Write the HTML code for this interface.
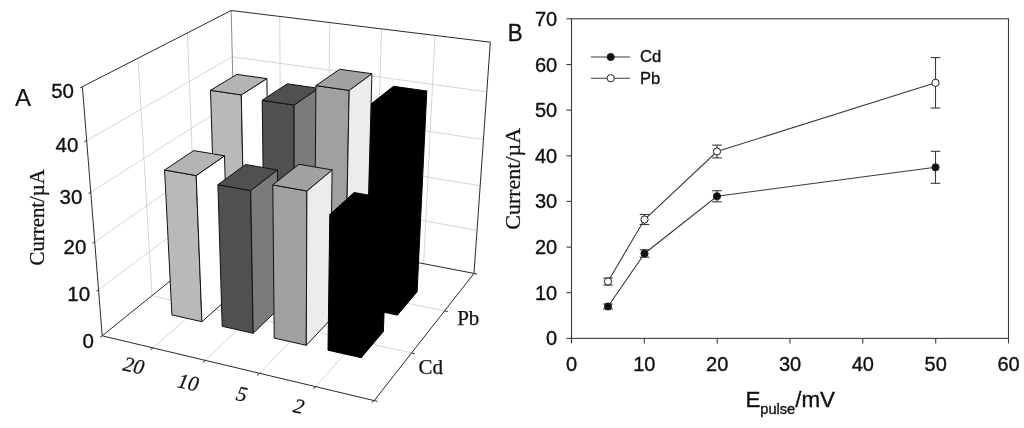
<!DOCTYPE html>
<html><head><meta charset="utf-8"><title>Figure</title>
<style>html,body{margin:0;padding:0;background:#fff}svg{display:block}</style></head>
<body><svg width="1024" height="428" viewBox="0 0 1024 428">
<rect width="1024" height="428" fill="#fff"/>
<g id="chartA">
<line x1="98.5" y1="289.7" x2="235.4" y2="186.9" stroke="#cbcbcb" stroke-width="0.8"/>
<line x1="235.4" y1="186.9" x2="477.0" y2="230.3" stroke="#cbcbcb" stroke-width="0.8"/>
<line x1="94.7" y1="241.9" x2="234.4" y2="145.0" stroke="#cbcbcb" stroke-width="0.8"/>
<line x1="234.4" y1="145.0" x2="480.2" y2="185.8" stroke="#cbcbcb" stroke-width="0.8"/>
<line x1="90.8" y1="192.2" x2="233.3" y2="101.6" stroke="#cbcbcb" stroke-width="0.8"/>
<line x1="233.3" y1="101.6" x2="483.4" y2="139.6" stroke="#cbcbcb" stroke-width="0.8"/>
<line x1="86.7" y1="140.5" x2="232.3" y2="56.8" stroke="#cbcbcb" stroke-width="0.8"/>
<line x1="232.3" y1="56.8" x2="486.8" y2="91.8" stroke="#cbcbcb" stroke-width="0.8"/>
<line x1="152.0" y1="295.7" x2="138.1" y2="58.1" stroke="#cbcbcb" stroke-width="0.8"/>
<line x1="152.0" y1="295.7" x2="411.6" y2="353.0" stroke="#cbcbcb" stroke-width="0.8"/>
<line x1="196.4" y1="259.8" x2="187.4" y2="32.9" stroke="#cbcbcb" stroke-width="0.8"/>
<line x1="196.4" y1="259.8" x2="444.6" y2="310.9" stroke="#cbcbcb" stroke-width="0.8"/>
<line x1="281.1" y1="236.2" x2="279.7" y2="16.4" stroke="#cbcbcb" stroke-width="0.8"/>
<line x1="152.9" y1="347.9" x2="281.1" y2="236.2" stroke="#cbcbcb" stroke-width="0.8"/>
<line x1="327.2" y1="245.1" x2="329.8" y2="22.6" stroke="#cbcbcb" stroke-width="0.8"/>
<line x1="205.3" y1="360.4" x2="327.2" y2="245.1" stroke="#cbcbcb" stroke-width="0.8"/>
<line x1="374.7" y1="254.2" x2="381.6" y2="28.9" stroke="#cbcbcb" stroke-width="0.8"/>
<line x1="259.6" y1="373.3" x2="374.7" y2="254.2" stroke="#cbcbcb" stroke-width="0.8"/>
<line x1="423.6" y1="263.7" x2="435.0" y2="35.4" stroke="#cbcbcb" stroke-width="0.8"/>
<line x1="315.8" y1="386.7" x2="423.6" y2="263.7" stroke="#cbcbcb" stroke-width="0.8"/>
<line x1="236.3" y1="227.6" x2="231.2" y2="10.5" stroke="#8a8a8a" stroke-width="1.0"/>
<line x1="102.2" y1="335.8" x2="82.4" y2="86.7" stroke="#2a2a2a" stroke-width="1.0"/>
<line x1="82.4" y1="86.7" x2="231.2" y2="10.5" stroke="#2a2a2a" stroke-width="1.0"/>
<line x1="231.2" y1="10.5" x2="490.3" y2="42.2" stroke="#2a2a2a" stroke-width="1.0"/>
<line x1="490.3" y1="42.2" x2="474.0" y2="273.4" stroke="#2a2a2a" stroke-width="1.0"/>
<line x1="102.2" y1="335.8" x2="374.2" y2="400.6" stroke="#2a2a2a" stroke-width="1.0"/>
<line x1="374.2" y1="400.6" x2="474.0" y2="273.4" stroke="#2a2a2a" stroke-width="1.0"/>
<line x1="102.2" y1="335.8" x2="236.3" y2="227.6" stroke="#2a2a2a" stroke-width="1.0"/>
<line x1="236.3" y1="227.6" x2="474.0" y2="273.4" stroke="#2a2a2a" stroke-width="1.0"/>
<line x1="102.2" y1="335.8" x2="100.2" y2="337.4" stroke="#2a2a2a" stroke-width="1.0"/>
<line x1="98.5" y1="289.7" x2="96.5" y2="291.3" stroke="#2a2a2a" stroke-width="1.0"/>
<line x1="94.7" y1="241.9" x2="92.6" y2="243.4" stroke="#2a2a2a" stroke-width="1.0"/>
<line x1="90.8" y1="192.2" x2="88.6" y2="193.6" stroke="#2a2a2a" stroke-width="1.0"/>
<line x1="86.7" y1="140.5" x2="84.4" y2="141.8" stroke="#2a2a2a" stroke-width="1.0"/>
<line x1="82.4" y1="86.7" x2="80.1" y2="87.9" stroke="#2a2a2a" stroke-width="1.0"/>
<line x1="152.9" y1="347.9" x2="150.4" y2="349.9" stroke="#2a2a2a" stroke-width="1.0"/>
<line x1="205.3" y1="360.4" x2="202.8" y2="362.4" stroke="#2a2a2a" stroke-width="1.0"/>
<line x1="259.6" y1="373.3" x2="257.1" y2="375.3" stroke="#2a2a2a" stroke-width="1.0"/>
<line x1="315.8" y1="386.7" x2="313.4" y2="388.7" stroke="#2a2a2a" stroke-width="1.0"/>
<line x1="374.2" y1="400.6" x2="371.7" y2="402.6" stroke="#2a2a2a" stroke-width="1.0"/>
<line x1="411.6" y1="353.0" x2="414.7" y2="353.7" stroke="#2a2a2a" stroke-width="1.0"/>
<line x1="444.6" y1="310.9" x2="447.7" y2="311.6" stroke="#2a2a2a" stroke-width="1.0"/>
<line x1="474.0" y1="273.4" x2="477.1" y2="274.1" stroke="#2a2a2a" stroke-width="1.0"/>
<line x1="374.2" y1="400.6" x2="377.3" y2="401.3" stroke="#2a2a2a" stroke-width="1.0"/>
<polygon points="216.4,277.1 245.2,283.1 241.3,94.9 210.5,90.3" fill="#b9b9b9" stroke="#111" stroke-width="1.0" stroke-linejoin="round"/>
<polygon points="245.2,283.1 268.9,261.9 266.9,78.6 241.3,94.9" fill="#ffffff" stroke="#111" stroke-width="1.0" stroke-linejoin="round"/>
<polygon points="210.5,90.3 241.3,94.9 266.9,78.6 236.9,74.4" fill="#b4b4b4" stroke="#111" stroke-width="1.0" stroke-linejoin="round"/>
<polygon points="264.6,287.2 294.3,293.4 294.1,105.1 262.2,100.3" fill="#505050" stroke="#111" stroke-width="1.0" stroke-linejoin="round"/>
<polygon points="294.3,293.4 316.8,271.6 318.3,88.3 294.1,105.1" fill="#7b7b7b" stroke="#111" stroke-width="1.0" stroke-linejoin="round"/>
<polygon points="262.2,100.3 294.1,105.1 318.3,88.3 287.3,83.8" fill="#505050" stroke="#111" stroke-width="1.0" stroke-linejoin="round"/>
<polygon points="314.4,297.6 345.0,304.1 349.2,90.4 315.9,85.6" fill="#a0a0a0" stroke="#111" stroke-width="1.0" stroke-linejoin="round"/>
<polygon points="345.0,304.1 366.2,281.5 371.9,73.7 349.2,90.4" fill="#ececec" stroke="#111" stroke-width="1.0" stroke-linejoin="round"/>
<polygon points="315.9,85.6 349.2,90.4 371.9,73.7 339.6,69.3" fill="#a2a2a2" stroke="#111" stroke-width="1.0" stroke-linejoin="round"/>
<polygon points="365.8,308.4 397.4,315.1 405.8,108.6 371.5,103.6" fill="#000" stroke="#000" stroke-width="1.0" stroke-linejoin="round"/>
<polygon points="397.4,315.1 417.1,291.8 426.8,91.0 405.8,108.6" fill="#000" stroke="#000" stroke-width="1.0" stroke-linejoin="round"/>
<polygon points="371.5,103.6 405.8,108.6 426.8,91.0 393.5,86.3" fill="#000" stroke="#000" stroke-width="1.0" stroke-linejoin="round"/>
<polygon points="171.9,314.9 201.9,321.7 196.2,175.6 164.6,170.0" fill="#b9b9b9" stroke="#111" stroke-width="1.0" stroke-linejoin="round"/>
<polygon points="201.9,321.7 228.5,298.0 224.5,155.8 196.2,175.6" fill="#ffffff" stroke="#111" stroke-width="1.0" stroke-linejoin="round"/>
<polygon points="164.6,170.0 196.2,175.6 224.5,155.8 193.7,150.6" fill="#b4b4b4" stroke="#111" stroke-width="1.0" stroke-linejoin="round"/>
<polygon points="222.2,326.3 253.2,333.3 250.7,190.6 217.9,184.7" fill="#505050" stroke="#111" stroke-width="1.0" stroke-linejoin="round"/>
<polygon points="253.2,333.3 278.4,308.8 277.4,170.0 250.7,190.6" fill="#7b7b7b" stroke="#111" stroke-width="1.0" stroke-linejoin="round"/>
<polygon points="217.9,184.7 250.7,190.6 277.4,170.0 245.6,164.5" fill="#505050" stroke="#111" stroke-width="1.0" stroke-linejoin="round"/>
<polygon points="274.2,338.1 306.3,345.3 306.9,191.0 272.8,184.9" fill="#a0a0a0" stroke="#111" stroke-width="1.0" stroke-linejoin="round"/>
<polygon points="306.3,345.3 330.1,320.0 332.1,169.9 306.9,191.0" fill="#ececec" stroke="#111" stroke-width="1.0" stroke-linejoin="round"/>
<polygon points="272.8,184.9 306.9,191.0 332.1,169.9 299.0,164.3" fill="#a2a2a2" stroke="#111" stroke-width="1.0" stroke-linejoin="round"/>
<polygon points="328.0,350.2 361.2,357.7 364.8,220.9 329.8,214.5" fill="#000" stroke="#000" stroke-width="1.0" stroke-linejoin="round"/>
<polygon points="361.2,357.7 383.4,331.5 388.1,198.5 364.8,220.9" fill="#000" stroke="#000" stroke-width="1.0" stroke-linejoin="round"/>
<polygon points="329.8,214.5 364.8,220.9 388.1,198.5 354.1,192.5" fill="#000" stroke="#000" stroke-width="1.0" stroke-linejoin="round"/>
</g>
<text x="14.9" y="106.3" font-size="24" font-family="Liberation Sans, Arial, sans-serif" stroke="#111" stroke-width="0.15" fill="#111">A</text>
<text x="93.8" y="347.5" font-size="20.5" text-anchor="end" font-family="Liberation Sans, Arial, sans-serif" stroke="#111" stroke-width="0.35" fill="#111">0</text>
<text x="90.1" y="301.4" font-size="20.5" text-anchor="end" font-family="Liberation Sans, Arial, sans-serif" stroke="#111" stroke-width="0.35" fill="#111">10</text>
<text x="86.3" y="253.6" font-size="20.5" text-anchor="end" font-family="Liberation Sans, Arial, sans-serif" stroke="#111" stroke-width="0.35" fill="#111">20</text>
<text x="82.4" y="203.9" font-size="20.5" text-anchor="end" font-family="Liberation Sans, Arial, sans-serif" stroke="#111" stroke-width="0.35" fill="#111">30</text>
<text x="78.3" y="152.2" font-size="20.5" text-anchor="end" font-family="Liberation Sans, Arial, sans-serif" stroke="#111" stroke-width="0.35" fill="#111">40</text>
<text x="74.0" y="98.4" font-size="20.5" text-anchor="end" font-family="Liberation Sans, Arial, sans-serif" stroke="#111" stroke-width="0.35" fill="#111">50</text>
<text transform="translate(43.5,217.3) rotate(-90)" font-size="20.8" text-anchor="middle" font-family="Liberation Serif, Times New Roman, serif" stroke="#111" stroke-width="0.25" fill="#111">Current/µA</text>
<text transform="translate(133.8,365.6) rotate(12)" font-size="21" font-style="italic" text-anchor="middle" dominant-baseline="central" font-family="Liberation Serif, Times New Roman, serif" stroke="#111" stroke-width="0.25" fill="#111">20</text>
<text transform="translate(188.2,382.3) rotate(12)" font-size="21" font-style="italic" text-anchor="middle" dominant-baseline="central" font-family="Liberation Serif, Times New Roman, serif" stroke="#111" stroke-width="0.25" fill="#111">10</text>
<text transform="translate(241.9,394.1) rotate(12)" font-size="21" font-style="italic" text-anchor="middle" dominant-baseline="central" font-family="Liberation Serif, Times New Roman, serif" stroke="#111" stroke-width="0.25" fill="#111">5</text>
<text transform="translate(298.9,406.2) rotate(12)" font-size="21" font-style="italic" text-anchor="middle" dominant-baseline="central" font-family="Liberation Serif, Times New Roman, serif" stroke="#111" stroke-width="0.25" fill="#111">2</text>
<text x="457.2" y="325" font-size="21" font-family="Liberation Serif, Times New Roman, serif" stroke="#111" stroke-width="0.25" fill="#111">Pb</text>
<text x="418.6" y="373.6" font-size="21" font-family="Liberation Serif, Times New Roman, serif" stroke="#111" stroke-width="0.25" fill="#111">Cd</text>
<g id="chartB">
<rect x="571.5" y="18.8" width="437.0" height="319.59999999999997" fill="none" stroke="#3a3a3a" stroke-width="1.1"/>
<line x1="566.5" y1="338.4" x2="571.5" y2="338.4" stroke="#3a3a3a" stroke-width="1.1"/>
<text x="557.2" y="345.4" font-size="20" text-anchor="end" font-family="Liberation Sans, Arial, sans-serif" stroke="#111" stroke-width="0.35" fill="#111">0</text>
<line x1="566.5" y1="292.7" x2="571.5" y2="292.7" stroke="#3a3a3a" stroke-width="1.1"/>
<text x="557.2" y="299.7" font-size="20" text-anchor="end" font-family="Liberation Sans, Arial, sans-serif" stroke="#111" stroke-width="0.35" fill="#111">10</text>
<line x1="566.5" y1="247.1" x2="571.5" y2="247.1" stroke="#3a3a3a" stroke-width="1.1"/>
<text x="557.2" y="254.1" font-size="20" text-anchor="end" font-family="Liberation Sans, Arial, sans-serif" stroke="#111" stroke-width="0.35" fill="#111">20</text>
<line x1="566.5" y1="201.4" x2="571.5" y2="201.4" stroke="#3a3a3a" stroke-width="1.1"/>
<text x="557.2" y="208.4" font-size="20" text-anchor="end" font-family="Liberation Sans, Arial, sans-serif" stroke="#111" stroke-width="0.35" fill="#111">30</text>
<line x1="566.5" y1="155.8" x2="571.5" y2="155.8" stroke="#3a3a3a" stroke-width="1.1"/>
<text x="557.2" y="162.8" font-size="20" text-anchor="end" font-family="Liberation Sans, Arial, sans-serif" stroke="#111" stroke-width="0.35" fill="#111">40</text>
<line x1="566.5" y1="110.1" x2="571.5" y2="110.1" stroke="#3a3a3a" stroke-width="1.1"/>
<text x="557.2" y="117.1" font-size="20" text-anchor="end" font-family="Liberation Sans, Arial, sans-serif" stroke="#111" stroke-width="0.35" fill="#111">50</text>
<line x1="566.5" y1="64.5" x2="571.5" y2="64.5" stroke="#3a3a3a" stroke-width="1.1"/>
<text x="557.2" y="71.5" font-size="20" text-anchor="end" font-family="Liberation Sans, Arial, sans-serif" stroke="#111" stroke-width="0.35" fill="#111">60</text>
<line x1="566.5" y1="18.8" x2="571.5" y2="18.8" stroke="#3a3a3a" stroke-width="1.1"/>
<text x="557.2" y="25.8" font-size="20" text-anchor="end" font-family="Liberation Sans, Arial, sans-serif" stroke="#111" stroke-width="0.35" fill="#111">70</text>
<line x1="571.5" y1="338.4" x2="571.5" y2="343.4" stroke="#3a3a3a" stroke-width="1.1"/>
<text x="571.5" y="371" font-size="20" text-anchor="middle" font-family="Liberation Sans, Arial, sans-serif" stroke="#111" stroke-width="0.35" fill="#111">0</text>
<line x1="644.3" y1="338.4" x2="644.3" y2="343.4" stroke="#3a3a3a" stroke-width="1.1"/>
<text x="644.3" y="371" font-size="20" text-anchor="middle" font-family="Liberation Sans, Arial, sans-serif" stroke="#111" stroke-width="0.35" fill="#111">10</text>
<line x1="717.2" y1="338.4" x2="717.2" y2="343.4" stroke="#3a3a3a" stroke-width="1.1"/>
<text x="717.2" y="371" font-size="20" text-anchor="middle" font-family="Liberation Sans, Arial, sans-serif" stroke="#111" stroke-width="0.35" fill="#111">20</text>
<line x1="790.0" y1="338.4" x2="790.0" y2="343.4" stroke="#3a3a3a" stroke-width="1.1"/>
<text x="790.0" y="371" font-size="20" text-anchor="middle" font-family="Liberation Sans, Arial, sans-serif" stroke="#111" stroke-width="0.35" fill="#111">30</text>
<line x1="862.8" y1="338.4" x2="862.8" y2="343.4" stroke="#3a3a3a" stroke-width="1.1"/>
<text x="862.8" y="371" font-size="20" text-anchor="middle" font-family="Liberation Sans, Arial, sans-serif" stroke="#111" stroke-width="0.35" fill="#111">40</text>
<line x1="935.7" y1="338.4" x2="935.7" y2="343.4" stroke="#3a3a3a" stroke-width="1.1"/>
<text x="935.7" y="371" font-size="20" text-anchor="middle" font-family="Liberation Sans, Arial, sans-serif" stroke="#111" stroke-width="0.35" fill="#111">50</text>
<line x1="1008.5" y1="338.4" x2="1008.5" y2="343.4" stroke="#3a3a3a" stroke-width="1.1"/>
<text x="1008.5" y="371" font-size="20" text-anchor="middle" font-family="Liberation Sans, Arial, sans-serif" stroke="#111" stroke-width="0.35" fill="#111">60</text>
<polyline points="608,306.5 644.5,253.5 717,196.25 935.5,167.3" fill="none" stroke="#3a3a3a" stroke-width="1.1"/>
<line x1="608.0" y1="304.0" x2="608.0" y2="309.0" stroke="#3a3a3a" stroke-width="1.1"/>
<line x1="603.2" y1="304.0" x2="612.8" y2="304.0" stroke="#3a3a3a" stroke-width="1.1"/>
<line x1="603.2" y1="309.0" x2="612.8" y2="309.0" stroke="#3a3a3a" stroke-width="1.1"/>
<line x1="644.5" y1="249.8" x2="644.5" y2="257.2" stroke="#3a3a3a" stroke-width="1.1"/>
<line x1="639.7" y1="249.8" x2="649.3" y2="249.8" stroke="#3a3a3a" stroke-width="1.1"/>
<line x1="639.7" y1="257.2" x2="649.3" y2="257.2" stroke="#3a3a3a" stroke-width="1.1"/>
<line x1="717.0" y1="190.7" x2="717.0" y2="201.8" stroke="#3a3a3a" stroke-width="1.1"/>
<line x1="712.2" y1="190.7" x2="721.8" y2="190.7" stroke="#3a3a3a" stroke-width="1.1"/>
<line x1="712.2" y1="201.8" x2="721.8" y2="201.8" stroke="#3a3a3a" stroke-width="1.1"/>
<line x1="935.5" y1="151.3" x2="935.5" y2="183.3" stroke="#3a3a3a" stroke-width="1.1"/>
<line x1="930.7" y1="151.3" x2="940.3" y2="151.3" stroke="#3a3a3a" stroke-width="1.1"/>
<line x1="930.7" y1="183.3" x2="940.3" y2="183.3" stroke="#3a3a3a" stroke-width="1.1"/>
<circle cx="608" cy="306.5" r="3.6" fill="#111" stroke="#222" stroke-width="1"/>
<circle cx="644.5" cy="253.5" r="3.6" fill="#111" stroke="#222" stroke-width="1"/>
<circle cx="717" cy="196.25" r="3.6" fill="#111" stroke="#222" stroke-width="1"/>
<circle cx="935.5" cy="167.3" r="3.6" fill="#111" stroke="#222" stroke-width="1"/>
<polyline points="608,281.5 644.5,219.5 717,151.5 935.5,82.8" fill="none" stroke="#3a3a3a" stroke-width="1.1"/>
<line x1="608.0" y1="278.0" x2="608.0" y2="285.0" stroke="#3a3a3a" stroke-width="1.1"/>
<line x1="603.2" y1="278.0" x2="612.8" y2="278.0" stroke="#3a3a3a" stroke-width="1.1"/>
<line x1="603.2" y1="285.0" x2="612.8" y2="285.0" stroke="#3a3a3a" stroke-width="1.1"/>
<line x1="644.5" y1="214.5" x2="644.5" y2="224.5" stroke="#3a3a3a" stroke-width="1.1"/>
<line x1="639.7" y1="214.5" x2="649.3" y2="214.5" stroke="#3a3a3a" stroke-width="1.1"/>
<line x1="639.7" y1="224.5" x2="649.3" y2="224.5" stroke="#3a3a3a" stroke-width="1.1"/>
<line x1="717.0" y1="145.1" x2="717.0" y2="157.9" stroke="#3a3a3a" stroke-width="1.1"/>
<line x1="712.2" y1="145.1" x2="721.8" y2="145.1" stroke="#3a3a3a" stroke-width="1.1"/>
<line x1="712.2" y1="157.9" x2="721.8" y2="157.9" stroke="#3a3a3a" stroke-width="1.1"/>
<line x1="935.5" y1="57.6" x2="935.5" y2="108.0" stroke="#3a3a3a" stroke-width="1.1"/>
<line x1="930.7" y1="57.6" x2="940.3" y2="57.6" stroke="#3a3a3a" stroke-width="1.1"/>
<line x1="930.7" y1="108.0" x2="940.3" y2="108.0" stroke="#3a3a3a" stroke-width="1.1"/>
<circle cx="608" cy="281.5" r="3.6" fill="#fff" stroke="#222" stroke-width="1"/>
<circle cx="644.5" cy="219.5" r="3.6" fill="#fff" stroke="#222" stroke-width="1"/>
<circle cx="717" cy="151.5" r="3.6" fill="#fff" stroke="#222" stroke-width="1"/>
<circle cx="935.5" cy="82.8" r="3.6" fill="#fff" stroke="#222" stroke-width="1"/>
<line x1="591.0" y1="57.0" x2="630.0" y2="57.0" stroke="#3a3a3a" stroke-width="1.1"/>
<circle cx="610.7" cy="57" r="3.6" fill="#111" stroke="#222" stroke-width="1"/>
<text x="640" y="62.4" font-size="16.6" font-family="Liberation Sans, Arial, sans-serif" stroke="#111" stroke-width="0.35" fill="#111">Cd</text>
<line x1="591.0" y1="78.2" x2="630.0" y2="78.2" stroke="#3a3a3a" stroke-width="1.1"/>
<circle cx="610.7" cy="78.2" r="3.6" fill="#fff" stroke="#222" stroke-width="1"/>
<text x="640" y="83.6" font-size="16.6" font-family="Liberation Sans, Arial, sans-serif" stroke="#111" stroke-width="0.35" fill="#111">Pb</text>
</g>
<text transform="translate(507.7,40.6) scale(0.94,1)" font-size="23.7" font-family="Liberation Sans, Arial, sans-serif" stroke="#111" stroke-width="0.35" fill="#111">B</text>
<text transform="translate(520.2,178.8) rotate(-90)" font-size="22" text-anchor="middle" font-family="Liberation Serif, Times New Roman, serif" stroke="#111" stroke-width="0.25" fill="#111">Current/µA</text>
<text x="745.4" y="406.7" font-size="22.4" font-family="Liberation Sans, Arial, sans-serif" stroke="#111" stroke-width="0.35" fill="#111">E<tspan font-size="14.6" dy="7.2">pulse</tspan><tspan dy="-7.2">/mV</tspan></text>
</svg></body></html>
